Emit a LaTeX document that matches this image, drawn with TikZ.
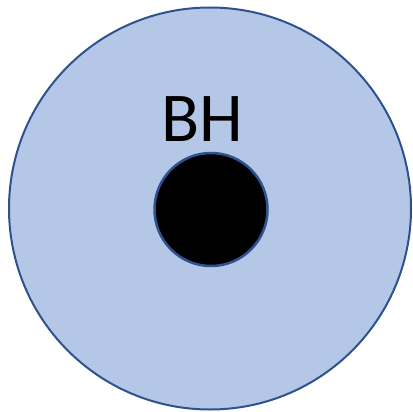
\documentclass[tikz,border=0pt]{standalone}
\usepackage{fontspec}
\setmainfont{Carlito}
\definecolor{rimblue}{HTML}{2F528F}
\definecolor{fillblue}{HTML}{B4C7E7}
\tikzset{
  region/.style={circle, draw=rimblue, fill=fillblue, line width=2pt, inner sep=0pt},
  hole/.style={circle, draw=rimblue, fill=black, line width=2.5pt, inner sep=0pt},
  bhname/.style={inner sep=0pt, font=\fontsize{70}{70}\selectfont}
}
\begin{document}
\begin{tikzpicture}[x=1pt, y=-1pt]
  \useasboundingbox (0,0) rectangle (412,412);
  % outer region
  \node[region, minimum size=402pt] (outer) at (210,208.5) {};
  % black hole
  \node[hole, minimum size=113pt] (bh) at (211,209.5) {};
  % label
  \node[bhname] (name) at (202,119.5) {BH};
\end{tikzpicture}
\end{document}
